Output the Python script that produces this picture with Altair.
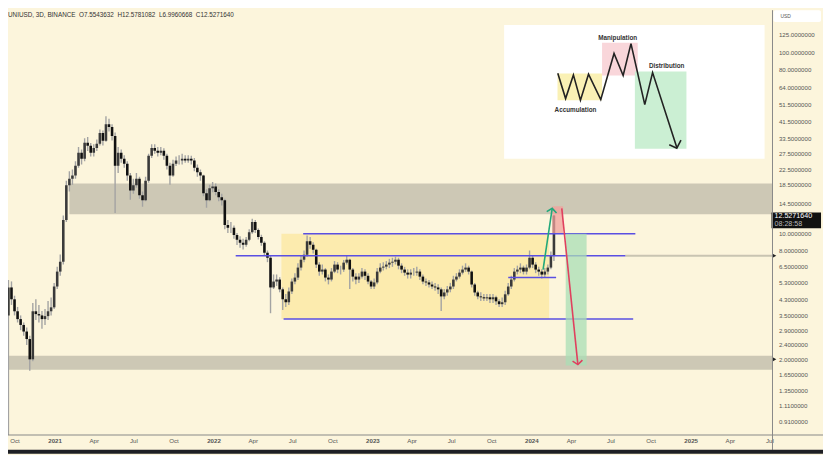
import altair as alt
import pandas as pd


def ms(s):
    return int(pd.Timestamp(s).value // 10**6)


W, H = 772, 429
BG = "#FCF5DC"
FONT = "Liberation Sans"

# ---------------- price candles (3D chart, sampled about weekly) ----------------
CANDLE_START = "2020-09-17"
closes = [
    5.0, 4.3, 3.69, 3.34, 3.1, 2.85, 2.59, 2.0, 3.69, 3.56,
    3.5, 3.34, 3.47, 3.69, 3.88, 5.06, 6.12, 6.94, 11.8, 18.4,
    20.0, 20.8, 23.6, 27.8, 25.8, 31.6, 30.4, 27.8, 29.6, 31.2,
    35.8, 32.4, 40.1, 38.7, 34.5, 23.6, 27.8, 25.8, 24.2, 20.8,
    17.2, 18.4, 20.0, 16.2, 15.2, 19.5, 26.8, 29.6, 28.6, 27.8,
    28.6, 26.8, 23.6, 20.8, 24.2, 25.2, 25.2, 25.8, 25.2, 25.8,
    25.2, 23.0, 21.7, 20.8, 16.6, 15.2, 17.7, 18.1, 16.9, 15.8,
    15.2, 11.1, 10.7, 10.7, 9.76, 9.17, 8.83, 8.61, 9.17, 10.1,
    11.5, 10.4, 9.52, 8.83, 7.78, 7.30, 5.0, 5.39, 5.53, 4.88,
    4.30, 4.14, 4.75, 5.39, 5.67, 6.44, 7.12, 7.59, 9.0, 8.61,
    8.08, 6.69, 6.12, 6.28, 5.67, 5.53, 6.12, 6.69, 6.28, 6.28,
    6.86, 7.12, 6.28, 5.74, 5.53, 5.74, 6.12, 5.8, 5.39, 5.06,
    5.33, 6.12, 6.44, 6.52, 6.69, 6.86, 6.94, 7.12, 6.6, 6.28,
    6.04, 5.89, 6.04, 6.04, 6.12, 5.74, 5.39, 5.33, 5.19, 5.06,
    5.0, 4.88, 4.46, 4.69, 4.88, 5.06, 5.53, 5.74, 6.04, 6.28,
    6.44, 6.12, 5.19, 4.69, 4.46, 4.41, 4.35, 4.41, 4.30, 4.41,
    4.19, 4.04, 4.14, 4.58, 5.06, 5.53, 6.12, 6.28, 6.44, 6.12,
    6.44, 7.30, 6.69, 6.28, 6.12, 5.89, 6.12, 6.44, 7.55, 12.527164,
]
highs = [
    5.5, 5.4, 4.5, 3.9, 3.5, 3.2, 3.0, 2.7, 4.1, 4.3,
    4.0, 3.7, 3.8, 4.2, 4.4, 5.3, 6.5, 7.6, 12.5, 19.5,
    22.0, 22.5, 25.0, 30.0, 29.0, 33.5, 34.0, 31.5, 31.0, 33.0,
    37.5, 37.0, 44.4, 43.0, 40.0, 36.0, 30.0, 29.0, 27.0, 25.0,
    21.5, 20.0, 21.5, 20.5, 17.0, 20.5, 27.5, 31.0, 31.0, 30.0,
    30.0, 29.5, 27.5, 24.5, 25.5, 26.5, 27.0, 27.5, 27.0, 27.0,
    26.8, 26.0, 24.0, 22.5, 21.0, 17.5, 18.5, 19.2, 18.8, 17.5,
    16.5, 15.5, 11.8, 11.5, 11.0, 10.0, 9.6, 9.3, 9.5, 10.5,
    12.0, 11.8, 10.6, 9.8, 9.0, 8.0, 7.5, 5.9, 5.9, 5.7,
    5.0, 4.6, 5.0, 5.6, 6.0, 6.8, 7.5, 8.0, 9.7, 9.5,
    8.9, 8.2, 6.9, 6.7, 6.4, 5.9, 6.4, 7.0, 6.9, 6.6,
    7.1, 7.5, 7.2, 6.4, 6.0, 6.0, 6.4, 6.3, 6.0, 5.5,
    5.6, 6.4, 6.8, 6.9, 7.0, 7.2, 7.3, 7.4, 7.3, 6.8,
    6.5, 6.3, 6.3, 6.4, 6.5, 6.3, 5.9, 5.6, 5.5, 5.4,
    5.3, 5.2, 5.0, 4.9, 5.1, 5.3, 5.8, 6.0, 6.3, 6.6,
    6.8, 6.6, 6.2, 5.3, 4.8, 4.7, 4.6, 4.6, 4.6, 4.6,
    4.5, 4.3, 4.4, 4.8, 5.3, 5.8, 6.4, 6.6, 6.8, 6.6,
    6.7, 8.0, 7.5, 6.9, 6.5, 6.3, 6.4, 6.7, 7.9, 12.5781082,
]
lows = [
    0.5, 4.0, 3.5, 3.2, 2.9, 2.7, 2.4, 1.73, 1.95, 3.3,
    3.2, 2.95, 3.1, 3.3, 3.5, 3.8, 4.9, 5.8, 6.7, 11.5,
    17.0, 18.5, 20.0, 23.0, 24.0, 25.0, 28.5, 26.5, 26.5, 28.5,
    30.5, 30.5, 32.0, 36.5, 32.5, 12.9, 21.5, 24.5, 23.0, 19.5,
    15.3, 16.5, 17.8, 15.5, 14.0, 15.0, 19.0, 26.0, 27.5, 26.5,
    27.0, 25.5, 22.5, 18.5, 20.5, 23.5, 24.0, 24.0, 24.5, 24.5,
    24.0, 22.0, 20.5, 19.5, 16.0, 13.8, 15.0, 16.8, 16.2, 15.0,
    14.2, 10.5, 10.0, 10.0, 9.3, 8.6, 8.3, 8.1, 8.4, 9.0,
    9.9, 10.0, 9.2, 8.5, 7.5, 6.9, 3.6, 4.9, 5.1, 4.7,
    3.75, 3.9, 4.0, 4.6, 5.2, 5.5, 6.2, 6.9, 7.4, 8.2,
    7.7, 6.4, 5.8, 5.9, 5.4, 5.2, 5.4, 6.0, 6.0, 5.9,
    6.1, 6.7, 4.9, 5.4, 5.2, 5.3, 5.6, 5.5, 5.2, 4.9,
    4.9, 5.2, 6.0, 6.2, 6.3, 6.4, 6.5, 6.7, 6.3, 6.0,
    5.8, 5.6, 5.6, 5.8, 5.8, 5.5, 5.2, 5.1, 5.0, 4.9,
    4.8, 4.6, 3.7, 4.3, 4.5, 4.7, 4.9, 5.4, 5.6, 5.9,
    6.1, 5.9, 5.0, 4.5, 4.3, 4.2, 4.2, 4.2, 4.1, 4.1,
    4.0, 3.9, 3.9, 4.0, 4.5, 4.9, 5.4, 5.9, 6.0, 5.9,
    5.9, 6.3, 6.4, 6.0, 5.8, 5.6, 5.7, 5.9, 6.3, 6.9960668,
]
FIRST_OPEN = 3.5
LAST_OPEN = 7.5543632
LAST_CLOSE_TEXT = "12.5271640"
LAST_TIME_TEXT = "08:28:58"
HEADER = ("UNIUSD, 3D, BINANCE\u00a0\u00a0O7.5543632\u00a0\u00a0H12.5781082"
          "\u00a0\u00a0L6.9960668\u00a0\u00a0C12.5271640")

# ---------------- drawn zones, levels, targets ----------------
DOMAIN_START, DOMAIN_END = "2020-09-16", "2025-07-08"
zone_start = ["2021-02-04", "2020-09-16"]
zone_low = [12.7, 1.75]
zone_high = [18.8, 2.09]

range_box = {"t1": "2022-06-06", "t2": "2024-02-11", "p1": 3.34, "p2": 9.9}

level_start = ["2022-07-26", "2022-02-21", "2023-11-09", "2022-06-11"]
level_end = ["2024-08-27", "2024-08-04", "2024-02-27", "2024-08-22"]
level_price = [9.9, 7.49, 5.67, 3.34]
ray_start, ray_price = "2024-08-04", 7.49
alert_prices = [7.49, 2.0]

target_t1 = ["2024-02-18", "2024-03-20"]
target_t2 = ["2024-03-14", "2024-05-07"]
target_p1 = [10.0, 1.85]
target_p2 = [14.08, 9.9]
target_col = ["#F2A09C", "#A9DDB6"]

arrow_t1 = ["2024-01-28", "2024-03-11"]
arrow_p1 = [6.28, 13.7]
arrow_t2 = ["2024-02-18", "2024-04-17"]
arrow_p2 = [13.7, 1.87]
arrow_angle = [8.3, 174.2]
arrow_col = ["#22A87A", "#E0405E"]

x_ticks = ["2020-10-01", "2021-01-01", "2021-04-01", "2021-07-01", "2021-10-01",
           "2022-01-01", "2022-04-01", "2022-07-01", "2022-10-01", "2023-01-01",
           "2023-04-01", "2023-07-01", "2023-10-01", "2024-01-01", "2024-04-01",
           "2024-07-01", "2024-10-01", "2025-01-01", "2025-04-01", "2025-07-01"]
y_ticks = [125, 100, 80, 64, 51.5, 41.5, 33.5, 27.5, 22.5, 18.5, 14.5, 10, 8, 6.5,
           5.3, 4.3, 3.5, 2.9, 2.4, 2.0, 1.65, 1.35, 1.11, 0.91]

# ---------------- inset schematic (its own 0-100 units) ----------------
zz_x = [20.6, 23.6, 26.6, 29.3, 32.4, 37.1, 42.2, 45.7, 48.7, 54.0, 57.0, 66.3]
zz_y = [63.9, 45.0, 62.7, 43.7, 63.2, 44.2, 78.7, 62.2, 86.1, 40.5, 64.4, 8.4]
head_x = [63.4, 66.3, 67.9]
head_y = [10.4, 7.9, 13.9]
phase_x1 = [20.5, 37.6, 50.2]
phase_x2 = [37.6, 51.3, 70.0]
phase_y1 = [43.7, 62.2, 7.4]
phase_y2 = [63.7, 86.7, 65.2]
phase_col = ["#FAF1B5", "#F9D6DA", "#CBEFD3"]
phase_names = ["Accumulation", "Manipulation", "Distribution"]
label_x = [27.4, 43.6, 62.4]
label_y = [36.3, 90.4, 69.4]

# ---------------- build ----------------
dates = pd.date_range(CANDLE_START, periods=len(closes), freq="7D")
opens = [FIRST_OPEN] + closes[:-1]
opens[-1] = LAST_OPEN
candles = pd.DataFrame({"t": [ms(d) for d in dates], "o": opens, "h": highs,
                        "l": lows, "c": closes})
candles["up"] = candles["c"] >= candles["o"]

X_SCALE = alt.Scale(type="utc", domain=[ms(DOMAIN_START), ms(DOMAIN_END)])
Y_SCALE = alt.Scale(type="log", domain=[0.7622, 171.4], nice=False, zero=False)
X_AXIS = alt.Axis(
    values=[ms(t) for t in x_ticks],
    labelExpr="utcmonth(datum.value)==0 ? utcFormat(datum.value,'%Y') : utcFormat(datum.value,'%b')",
    labelFontWeight={"condition": {"test": "utcmonth(datum.value)==0", "value": "bold"},
                     "value": "normal"},
    domain=False, ticks=False, tickSize=0, grid=False, labelFontSize=6.2,
    labelColor="#555555", labelPadding=3, title=None, labelFont=FONT,
    labelOverlap=False, labelFlush=False)
Y_AXIS = alt.Axis(
    orient="right", values=y_ticks, format=".7f", domain=False, ticks=False,
    tickSize=0, grid=False, labelFontSize=6.2, labelColor="#555555",
    labelPadding=6, title=None, labelFont=FONT, labelOverlap=False)


def X(f):
    return alt.X(f, type="temporal", scale=X_SCALE, axis=X_AXIS)


def Y(f):
    return alt.Y(f, type="quantitative", scale=Y_SCALE, axis=Y_AXIS)


zones = pd.DataFrame({"t1": [ms(z) for z in zone_start], "t2": ms(DOMAIN_END),
                      "p1": zone_low, "p2": zone_high})
zone_layer = alt.Chart(zones).mark_rect(color="#CDC8B5", clip=True).encode(
    x=X("t1"), x2="t2", y=Y("p1"), y2="p2")

box = pd.DataFrame({"t1": [ms(range_box["t1"])], "t2": [ms(range_box["t2"])],
                    "p1": [range_box["p1"]], "p2": [range_box["p2"]]})
box_layer = alt.Chart(box).mark_rect(color="#FCEBAE", clip=True).encode(
    x=X("t1"), x2="t2", y=Y("p1"), y2="p2")

ray = pd.DataFrame({"t1": [ms(ray_start)], "t2": [ms(DOMAIN_END)], "p": [ray_price]})
ray_layer = alt.Chart(ray).mark_rule(color="#C9C4B2", strokeWidth=2, clip=True).encode(
    x=X("t1"), x2="t2", y=Y("p"))

wick_layer = alt.Chart(candles).mark_rule(color="#A3A3A3", strokeWidth=1.4, clip=True).encode(
    x=X("t"), y=Y("l"), y2="h")
body_layer = alt.Chart(candles).mark_rule(strokeWidth=2.6, clip=True).encode(
    x=X("t"), y=Y("o"), y2="c",
    color=alt.condition("datum.up", alt.value("#3A3A3A"), alt.value("#111111")))

levels = pd.DataFrame({"t1": [ms(t) for t in level_start], "t2": [ms(t) for t in level_end],
                       "p": level_price})
level_layer = alt.Chart(levels).mark_rule(color="#5A4FE2", strokeWidth=1.5, clip=True).encode(
    x=X("t1"), x2="t2", y=Y("p"))

targets = pd.DataFrame({"t1": [ms(t) for t in target_t1], "t2": [ms(t) for t in target_t2],
                        "p1": target_p1, "p2": target_p2, "col": target_col})
target_layer = alt.Chart(targets).mark_rect(opacity=0.75, clip=True).encode(
    x=X("t1"), x2="t2", y=Y("p1"), y2="p2", color=alt.Color("col:N", scale=None))

arrows = pd.DataFrame({"t1": [ms(t) for t in arrow_t1], "t2": [ms(t) for t in arrow_t2],
                       "p1": arrow_p1, "p2": arrow_p2, "a": arrow_angle, "col": arrow_col})
arrow_layer = alt.Chart(arrows).mark_rule(strokeWidth=1.6).encode(
    x=X("t1"), x2="t2", y=Y("p1"), y2="p2", color=alt.Color("col:N", scale=None))
head_layer = alt.Chart(arrows).mark_point(
    shape="M -1 0.8 L 0 0 L 1 0.8", filled=False, strokeWidth=1.6, size=100, opacity=1).encode(
    x=X("t2"), y=Y("p2"), angle=alt.Angle("a:Q", scale=None),
    stroke=alt.Color("col:N", scale=None))

alerts = pd.DataFrame({"p": alert_prices})
alert_layer = alt.Chart(alerts).mark_point(
    shape="triangle-right", filled=True, size=18, color="#222222", opacity=1).encode(
    x=alt.value(W + 2), y=Y("p"))

last = pd.DataFrame({"p": [closes[-1]], "s1": [LAST_CLOSE_TEXT], "s2": [LAST_TIME_TEXT]})
label_box = alt.Chart(last).mark_rect(color="#111111", yOffset=-3, y2Offset=13).encode(
    x=alt.value(W - 1), x2=alt.value(W + 49), y=Y("p"), y2="p")
label_t1 = alt.Chart(last).mark_text(
    align="left", baseline="middle", fontSize=7.2, font=FONT, color="#FFFFFF", dy=1).encode(
    x=alt.value(W + 2), y=Y("p"), text="s1:N")
label_t2 = alt.Chart(last).mark_text(
    align="left", baseline="middle", fontSize=7.2, font=FONT, color="#BBBBBB", dy=9).encode(
    x=alt.value(W + 2), y=Y("p"), text="s2:N")

one = pd.DataFrame({"s": ["USD"], "h": [HEADER]})
usd_box = alt.Chart(one).mark_rect(color="#FFFFFF", cornerRadius=2).encode(
    x=alt.value(W + 1), x2=alt.value(W + 49), y=alt.value(0), y2=alt.value(12))
usd_text = alt.Chart(one).mark_text(
    align="left", baseline="middle", fontSize=5, font=FONT, color="#555555").encode(
    x=alt.value(W + 8), y=alt.value(6), text="s:N")
header_text = alt.Chart(one).mark_text(
    align="left", baseline="middle", fontSize=6.4, font=FONT, color="#333333").encode(
    x=alt.value(0), y=alt.value(5), text="h:N")
vsep = alt.Chart(one).mark_rule(color="#888888", strokeWidth=1).encode(
    x=alt.value(W), y=alt.value(0), y2=alt.value(444))
hsep = alt.Chart(one).mark_rule(color="#888888", strokeWidth=1).encode(
    x=alt.value(0), x2=alt.value(W + 51), y=alt.value(H))
bottom_bar = alt.Chart(one).mark_rect(color="#1E1F24").encode(
    x=alt.value(0), x2=alt.value(W + 51), y=alt.value(444), y2=alt.value(448))

main = alt.layer(zone_layer, box_layer, ray_layer, wick_layer, body_layer, level_layer,
                 target_layer, arrow_layer, head_layer, alert_layer, label_box, label_t1,
                 label_t2, usd_box, usd_text, header_text, vsep, hsep, bottom_bar)

# inset
IX = alt.Scale(domain=[0, 100], range=[501, 764], nice=False, zero=False)
IY = alt.Scale(domain=[0, 100], range=[150, 15], nice=False, zero=False)


def IXe(f):
    return alt.X(f, type="quantitative", scale=IX, axis=None)


def IYe(f):
    return alt.Y(f, type="quantitative", scale=IY, axis=None)


panel = pd.DataFrame({"x1": [0], "x2": [100], "y1": [0], "y2": [100]})
panel_layer = alt.Chart(panel).mark_rect(color="#FFFFFF").encode(
    x=IXe("x1"), x2="x2", y=IYe("y1"), y2="y2")
phases = pd.DataFrame({"x1": phase_x1, "x2": phase_x2, "y1": phase_y1, "y2": phase_y2,
                       "col": phase_col})
phase_layer = alt.Chart(phases).mark_rect().encode(
    x=IXe("x1"), x2="x2", y=IYe("y1"), y2="y2", color=alt.Color("col:N", scale=None))
zz = pd.DataFrame({"x": zz_x, "y": zz_y, "i": list(range(len(zz_x)))})
zz_layer = alt.Chart(zz).mark_line(color="#222222", strokeWidth=1.6).encode(
    x=IXe("x"), y=IYe("y"), order="i:Q")
hd = pd.DataFrame({"x": head_x, "y": head_y, "i": list(range(len(head_x)))})
hd_layer = alt.Chart(hd).mark_line(color="#222222", strokeWidth=1.6).encode(
    x=IXe("x"), y=IYe("y"), order="i:Q")
labels = pd.DataFrame({"x": label_x, "y": label_y, "s": phase_names})
lab_layer = alt.Chart(labels).mark_text(
    fontSize=6.4, fontWeight="bold", font=FONT, color="#333333", baseline="middle").encode(
    x=IXe("x"), y=IYe("y"), text="s:N")
inset = alt.layer(panel_layer, phase_layer, zz_layer, hd_layer, lab_layer)

chart = alt.layer(main, inset).resolve_scale(
    x="independent", y="independent"
).properties(
    width=W, height=H,
    padding={"left": 0, "top": 0, "right": 51, "bottom": 18},
    autosize=alt.AutoSizeParams(type="none"),
).configure(background=BG).configure_view(stroke=None)

chart.save("out.html", embed_options={"renderer": "svg", "actions": False})
